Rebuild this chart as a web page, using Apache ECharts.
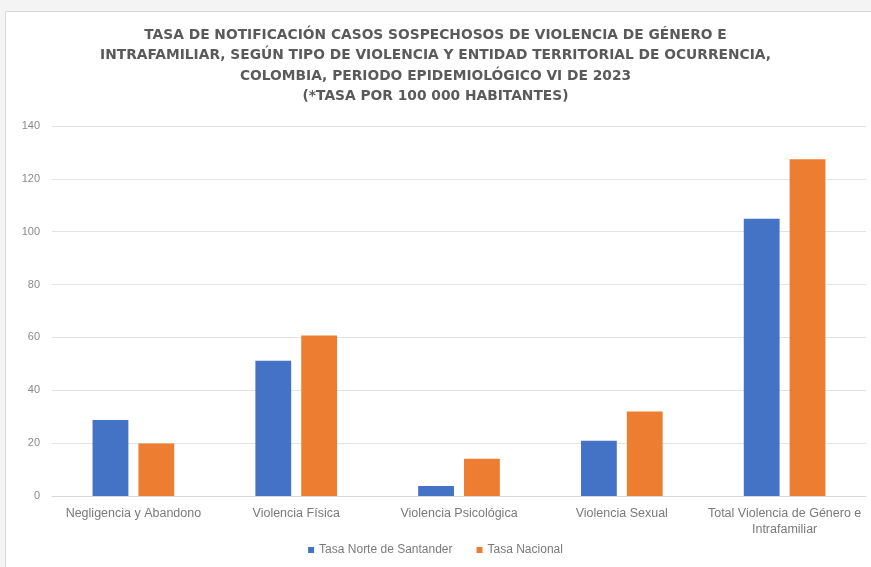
<!DOCTYPE html>
<html><head><meta charset="utf-8">
<script src="https://cdn.jsdelivr.net/npm/echarts@6/dist/echarts.min.js"></script>
<style>
html,body{margin:0;padding:0;background:#f4f4f4;}
#frame{position:absolute;left:5px;top:11px;width:880px;height:570px;background:#fff;border:1px solid #d9d9d9;}
#c{position:absolute;left:0;top:0;width:871px;height:567px;}
</style></head><body>
<div id="frame"></div>
<div id="c"></div>
<script>
const categories = ['Negligencia y Abandono','Violencia Física','Violencia Psicológica','Violencia Sexual','Total Violencia de Género e\nIntrafamiliar'];
const tasaNorte = [28.8, 51.2, 3.8, 20.9, 104.9];
const tasaNacional = [19.9, 60.7, 14.1, 32.0, 127.4];
const yTicks = [0, 20, 40, 60, 80, 100, 120, 140];
const titleText = 'TASA DE NOTIFICACIÓN CASOS SOSPECHOSOS DE VIOLENCIA DE GÉNERO E\nINTRAFAMILIAR, SEGÚN TIPO DE VIOLENCIA Y ENTIDAD TERRITORIAL DE OCURRENCIA,\nCOLOMBIA, PERIODO EPIDEMIOLÓGICO VI DE 2023\n(*TASA POR 100 000 HABITANTES)';

const chart = echarts.init(document.getElementById('c'), null, {renderer:'canvas'});
chart.setOption({
  backgroundColor: 'transparent',
  animation: false,
  title: {
    text: titleText,
    left: 'center', top: 20,
    textStyle: {fontFamily:'DejaVu Sans', fontSize: 13.8, fontWeight: 'bold', color:'#5a5a5a', lineHeight: 20.5, align:'center'}
  },
  legend: {
    bottom: 6, left: 'center',
    itemWidth: 6, itemHeight: 6, itemGap: 24,
    icon: 'rect',
    textStyle: {fontFamily:'Liberation Sans', fontSize: 12, color:'#7a7a7a'},
    data: ['Tasa Norte de Santander','Tasa Nacional']
  },
  grid: {left: 52, right: 5, top: 126, bottom: 71, containLabel: false},
  xAxis: {
    type: 'category', data: categories,
    axisLine: {lineStyle:{color:'#d9d9d9'}},
    axisTick: {show:false},
    axisLabel: {fontFamily:'Liberation Sans', fontSize: 12.5, color:'#7a7a7a', margin: 10, interval: 0, lineHeight: 16}
  },
  yAxis: {
    type: 'value', min: 0, max: 140, interval: 20,
    axisLine: {show:false}, axisTick:{show:false},
    splitLine: {lineStyle:{color:'#e3e3e3'}},
    axisLabel: {fontFamily:'Liberation Sans', fontSize: 11, color:'#8a8a8a', margin: 12,
      formatter: v => yTicks.includes(v) ? String(v) : ''}
  },
  series: [
    {name:'Tasa Norte de Santander', type:'bar', data: tasaNorte, barWidth: '22%', barGap: '28%', itemStyle:{color:'#4472c4'}},
    {name:'Tasa Nacional', type:'bar', data: tasaNacional, barWidth: '22%', itemStyle:{color:'#ed7d31'}}
  ]
});
</script>
</body></html>
